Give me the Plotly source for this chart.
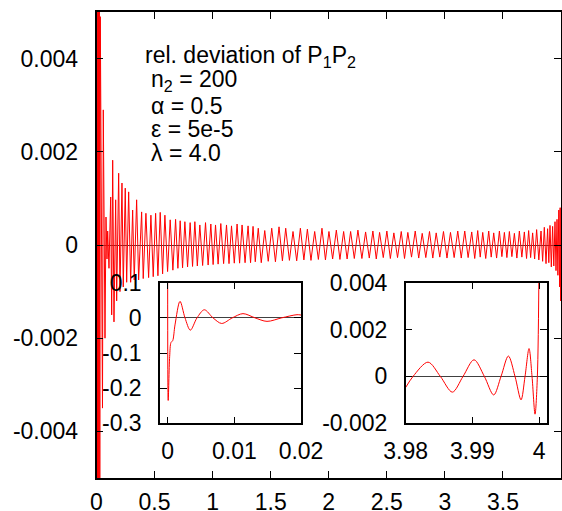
import plotly.graph_objects as go

# ---------------- data ----------------
main_x = [0.001, 0.0043, 0.0077, 0.0112, 0.0146, 0.0181, 0.0215, 0.0249, 0.0284, 0.0327,
          0.0516, 0.0585, 0.0731, 0.0817, 0.0903, 0.0963, 0.1075, 0.1221, 0.1307, 0.1393,
          0.1505, 0.1651, 0.1737, 0.1909, 0.2021, 0.2193, 0.2304, 0.2476, 0.2597, 0.2769,
          0.2941, 0.3113, 0.3250, 0.3457, 0.3629, 0.3886, 0.4024, 0.4256, 0.4488, 0.4686,
          0.4884, 0.5090, 0.5288, 0.5486, 0.5692, 0.5890, 0.6122, 0.6346, 0.6578, 0.6810,
          0.7008, 0.7206, 0.7412, 0.7610, 0.7842, 0.8065, 0.8272, 0.8469, 0.8684, 0.8899,
          0.9140, 0.9389, 0.9613, 0.9845, 1.0043, 1.0249, 1.0473, 1.0705, 1.0946, 1.1195,
          1.1410, 1.1625, 1.1866, 1.2107, 1.2322, 1.2536, 1.2794, 1.3052, 1.3267, 1.3482,
          1.3672, 1.3929, 1.4187, 1.4488, 1.4789, 1.5090, 1.5408, 1.5718, 1.6010, 1.6294,
          1.6612, 1.6922, 1.7240, 1.7558, 1.7859, 1.8160, 1.8469, 1.8788, 1.9106, 1.9415,
          1.9716, 2.0017, 2.0335, 2.0654, 2.0963, 2.1281, 2.1582, 2.1883, 2.2201, 2.2511,
          2.2855, 2.3173, 2.3491, 2.3801, 2.4093, 2.4377, 2.4695, 2.5004, 2.5305, 2.5606,
          2.5924, 2.6243, 2.6526, 2.6810, 2.7128, 2.7446, 2.7747, 2.8048, 2.8358, 2.8676,
          2.8960, 2.9252, 2.9562, 2.9880, 3.0181, 3.0482, 3.0800, 3.1110, 3.1410, 3.1711,
          3.2003, 3.2313, 3.2571, 3.2829, 3.3044, 3.3259, 3.3517, 3.3775, 3.3990, 3.4205,
          3.4454, 3.4695, 3.4910, 3.5125, 3.5340, 3.5555, 3.5770, 3.5985, 3.6199, 3.6414,
          3.6629, 3.6844, 3.7033, 3.7214, 3.7386, 3.7558, 3.7730, 3.7902, 3.8091, 3.8280,
          3.8418, 3.8564, 3.8710, 3.8848, 3.8951, 3.9054, 3.9166, 3.9278, 3.9381, 3.9484,
          3.9570, 3.9656, 3.9733, 3.9811, 3.9880, 3.9923, 3.9966, 4.0000]
main_y = [-6.0e-3, 6.0e-3, -6.0e-3, 6.0e-3, -6.0e-3, 6.0e-3, -6.0e-3, 6.0e-3, -5.5e-3, 4.9e-3,
          -3.5e-3, 2.9e-3, -2.0e-3, 0.6e-3, -0.3e-3, 0.3e-3, -0.5e-3, 1.03e-3, -1.5e-3, 1.82e-3,
          -1.65e-3, 0.97e-3, -1.2e-3, 1.54e-3, -1.0e-3, 1.33e-3, -0.9e-3, 1.22e-3, -0.8e-3, 1.14e-3,
          -0.8e-3, 0.75e-3, -0.75e-3, 0.97e-3, -0.75e-3, 0.71e-3, -0.72e-3, 0.68e-3, -0.70e-3, 0.64e-3,
          -0.68e-3, 0.68e-3, -0.66e-3, 0.70e-3, -0.62e-3, 0.64e-3, -0.57e-3, 0.54e-3, -0.54e-3, 0.55e-3,
          -0.50e-3, 0.52e-3, -0.49e-3, 0.50e-3, -0.47e-3, 0.48e-3, -0.46e-3, 0.50e-3, -0.45e-3, 0.43e-3,
          -0.44e-3, 0.48e-3, -0.43e-3, 0.45e-3, -0.42e-3, 0.43e-3, -0.41e-3, 0.46e-3, -0.40e-3, 0.43e-3,
          -0.40e-3, 0.41e-3, -0.39e-3, 0.45e-3, -0.39e-3, 0.43e-3, -0.38e-3, 0.41e-3, -0.38e-3, 0.40e-3,
          -0.36e-3, 0.36e-3, -0.38e-3, 0.31e-3, -0.35e-3, 0.36e-3, -0.36e-3, 0.39e-3, -0.34e-3, 0.36e-3,
          -0.33e-3, 0.29e-3, -0.34e-3, 0.36e-3, -0.32e-3, 0.34e-3, -0.33e-3, 0.29e-3, -0.31e-3, 0.36e-3,
          -0.32e-3, 0.29e-3, -0.30e-3, 0.32e-3, -0.31e-3, 0.29e-3, -0.30e-3, 0.29e-3, -0.29e-3, 0.32e-3,
          -0.29e-3, 0.28e-3, -0.28e-3, 0.30e-3, -0.30e-3, 0.27e-3, -0.27e-3, 0.30e-3, -0.29e-3, 0.26e-3,
          -0.27e-3, 0.29e-3, -0.29e-3, 0.27e-3, -0.26e-3, 0.30e-3, -0.28e-3, 0.25e-3, -0.27e-3, 0.29e-3,
          -0.28e-3, 0.26e-3, -0.26e-3, 0.29e-3, -0.28e-3, 0.27e-3, -0.27e-3, 0.30e-3, -0.28e-3, 0.30e-3,
          -0.27e-3, 0.28e-3, -0.29e-3, 0.31e-3, -0.26e-3, 0.27e-3, -0.29e-3, 0.30e-3, -0.26e-3, 0.26e-3,
          -0.28e-3, 0.30e-3, -0.25e-3, 0.27e-3, -0.27e-3, 0.29e-3, -0.25e-3, 0.25e-3, -0.28e-3, 0.30e-3,
          -0.26e-3, 0.28e-3, -0.29e-3, 0.31e-3, -0.27e-3, 0.26e-3, -0.30e-3, 0.33e-3, -0.32e-3, 0.30e-3,
          -0.35e-3, 0.38e-3, -0.40e-3, 0.35e-3, -0.38e-3, 0.42e-3, -0.47e-3, 0.40e-3, -0.45e-3, 0.50e-3,
          -0.55e-3, 0.55e-3, -0.65e-3, 0.75e-3, -0.90e-3, 0.80e-3, -1.2e-3, 0.80e-3]

inset1_x = [0.0, 0.00008, 0.0003, 0.0005, 0.00075, 0.0011, 0.00185, 0.0026, 0.0034, 0.0044,
            0.0055, 0.0068, 0.0081, 0.0097, 0.0113, 0.0131, 0.0149, 0.0171, 0.0194, 0.0200]
inset1_y = [0.12, -0.235, -0.11, -0.07, -0.065, -0.02, 0.047, 0.0, -0.035, 0.0,
            0.023, 0.0, -0.016, 0.0, 0.012, 0.0, -0.010, 0.0, 0.009, 0.008]

inset2_x = [3.9800, 3.9811, 3.98335, 3.9852, 3.9870, 3.9886, 3.99025, 3.9918, 3.9932, 3.9943,
            3.9954, 3.9964, 3.9973, 3.9979, 3.9985, 3.99895, 3.9994, 3.99975, 4.0000]
inset2_y = [-0.00047, 0.0, 0.00061, 0.0, -0.00067, 0.0, 0.00071, 0.0, -0.00079, 0.0,
            0.00087, 0.0, -0.0010, 0.0, 0.00119, 0.0, -0.00161, 0.0, 0.0050]

main_xticks = [0, 0.5, 1, 1.5, 2, 2.5, 3, 3.5, 4]
main_xticktext = ["0", "0.5", "1", "1.5", "2", "2.5", "3", "3.5", "4"]
main_yticks = [-0.004, -0.002, 0, 0.002, 0.004]
main_yticktext = ["-0.004", "-0.002", "0", "0.002", "0.004"]
in1_xticks = [0, 0.01, 0.02]
in1_xticktext = ["0", "0.01", "0.02"]
in1_yticks = [-0.3, -0.2, -0.1, 0, 0.1]
in1_yticktext = ["-0.3", "-0.2", "-0.1", "0", "0.1"]
in2_xticks = [3.98, 3.99, 4.0]
in2_xticktext = ["3.98", "3.99", "4"]
in2_yticks = [-0.002, 0, 0.002, 0.004]
in2_yticktext = ["-0.002", "0", "0.002", "0.004"]

label_lines = ["rel. deviation of P<sub>1</sub>P<sub>2</sub>",
               "n<sub>2</sub> = 200",
               "α = 0.5",
               "ε = 5e-5",
               "λ = 4.0"]

# ---------------- figure ----------------
W, H = 562, 511
OFF = 0   # the page margin is removed below, so the figure fills the window
FONT = "Liberation Sans, Arial, Helvetica, sans-serif"
FS = 23
RED = "#ff0000"

fig = go.Figure()
fig.add_trace(go.Scatter(x=main_x, y=main_y, mode="lines",
                         line=dict(color=RED, width=1), xaxis="x", yaxis="y"))
fig.add_trace(go.Scatter(x=inset1_x, y=inset1_y, mode="lines",
                         line=dict(color=RED, width=1, shape="spline", smoothing=0.9),
                         xaxis="x2", yaxis="y2"))
fig.add_trace(go.Scatter(x=inset2_x, y=inset2_y, mode="lines",
                         line=dict(color=RED, width=1, shape="spline", smoothing=0.9),
                         xaxis="x3", yaxis="y3"))


def px_x(p):
    return (p - OFF) / W


def px_y(p):
    return 1 - (p - OFF) / H


common = dict(showline=True, linecolor="black", linewidth=1.5, mirror="ticks",
              ticks="inside", ticklen=7, tickcolor="black", tickwidth=1,
              showgrid=False, tickfont=dict(family=FONT, size=FS, color="black"),
              tickmode="array", automargin=False)

fig.update_layout(
    width=W, height=H, margin=dict(l=0, r=0, t=0, b=0, pad=0, autoexpand=False),
    paper_bgcolor="white", plot_bgcolor="white", showlegend=False,
    xaxis=dict(domain=[px_x(96.5), px_x(561)], range=[0, 4.0], zeroline=False,
               tickvals=main_xticks, ticktext=main_xticktext, anchor="y",
               ticklabelstandoff=3, **common),
    yaxis=dict(domain=[px_y(478), px_y(12)], range=[-0.005, 0.005], zeroline=True,
               zerolinecolor="#404040", zerolinewidth=1,
               tickvals=main_yticks, ticktext=main_yticktext, anchor="x",
               ticklabelstandoff=12, **common),
    xaxis2=dict(domain=[px_x(160), px_x(301)], range=[-0.00115, 0.02], zeroline=False,
                tickvals=in1_xticks, ticktext=in1_xticktext, anchor="y2",
                ticklabelstandoff=6, **common),
    yaxis2=dict(domain=[px_y(423.3), px_y(282.7)], range=[-0.3, 0.1], zeroline=True,
                zerolinecolor="#404040", zerolinewidth=1,
                tickvals=in1_yticks, ticktext=in1_yticktext, anchor="x2",
                ticklabelstandoff=12, **common),
    xaxis3=dict(domain=[px_x(405.7), px_x(546.7)], range=[3.98, 4.00115], zeroline=False,
                tickvals=in2_xticks, ticktext=in2_xticktext, anchor="y3",
                ticklabelstandoff=6, **common),
    yaxis3=dict(domain=[px_y(423.3), px_y(282.7)], range=[-0.002, 0.004], zeroline=True,
                zerolinecolor="#404040", zerolinewidth=1,
                tickvals=in2_yticks, ticktext=in2_yticktext, anchor="x3",
                ticklabelstandoff=12, **common),
)

label_pos = [(143, 57), (149, 81), (149, 106), (149, 129), (149, 153)]
for txt, (lx, ly) in zip(label_lines, label_pos):
    fig.add_annotation(text=txt, xref="paper", yref="paper", x=px_x(lx), y=px_y(ly),
                       xanchor="left", yanchor="middle", showarrow=False,
                       font=dict(family=FONT, size=FS, color="black"))

fig.write_html("out.html",
               config={"displayModeBar": False},
               post_script="document.body.style.margin='0';"
                           "document.body.style.overflow='hidden';")
